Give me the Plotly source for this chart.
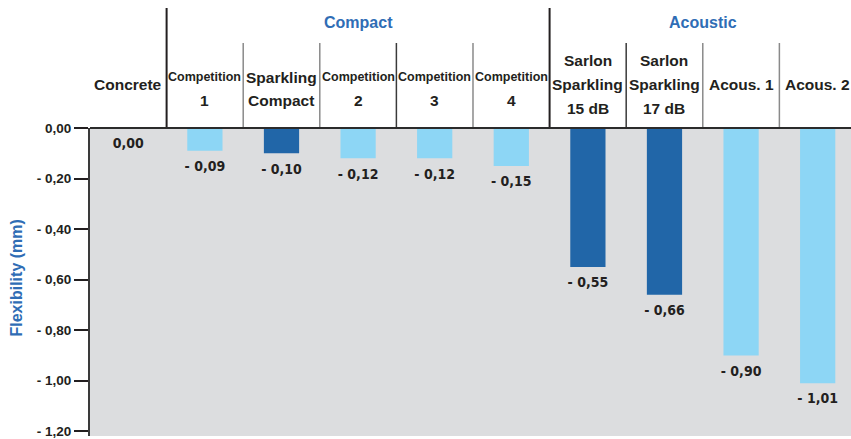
import plotly.graph_objects as go

# ---- data ----
categories = ["Concrete", "Competition 1", "Sparkling Compact", "Competition 2",
              "Competition 3", "Competition 4", "Sarlon Sparkling 15 dB",
              "Sarlon Sparkling 17 dB", "Acous. 1", "Acous. 2"]
values = [0.00, -0.09, -0.10, -0.12, -0.12, -0.15, -0.55, -0.66, -0.90, -1.01]
value_labels = ["0,00", "- 0,09", "- 0,10", "- 0,12", "- 0,12", "- 0,15",
                "- 0,55", "- 0,66", "- 0,90", "- 1,01"]
is_sarlon = [False, False, True, False, False, False, True, True, False, False]
header_lines = [["Concrete"], ["Competition", "1"], ["Sparkling", "Compact"],
                ["Competition", "2"], ["Competition", "3"], ["Competition", "4"],
                ["Sarlon", "Sparkling", "15 dB"], ["Sarlon", "Sparkling", "17 dB"],
                ["Acous. 1"], ["Acous. 2"]]
groups = [("Compact", 1, 5), ("Acoustic", 6, 9)]
y_tick_vals = [0, -0.2, -0.4, -0.6, -0.8, -1.0, -1.2]
y_tick_text = ["0,00", "- 0,20", "- 0,40", "- 0,60", "- 0,80", "- 1,00", "- 1,20"]
y_title = "Flexibility (mm)"

# ---- style ----
DARK = "#231F20"
BLUE_TXT = "#2F6DB5"
DARK_BAR = "#2166A8"
LIGHT_BAR = "#8DD6F5"
GRAY_BG = "#DCDDDF"
BOLD = "Liberation Sans, Arial, sans-serif"
NARROW = "Noto Sans Condensed, DejaVu Sans Condensed, Liberation Sans, sans-serif"

W, H = 851, 439
ML, MT, MB = 90, 128, 3
PLOT_H = H - MT - MB


def py(p):
    """pixel y (from top) -> paper y"""
    return (H - MB - p) / PLOT_H


x = list(range(len(categories)))
colors = [DARK_BAR if s else LIGHT_BAR for s in is_sarlon]

fig = go.Figure()
fig.add_trace(go.Bar(x=x, y=values, marker=dict(color=colors, line=dict(width=0)),
                     width=0.46, hoverinfo="skip", showlegend=False))
fig.add_trace(go.Scatter(x=x, y=values, mode="markers+text", text=value_labels,
                         textposition="bottom center",
                         marker=dict(size=14, opacity=0),
                         textfont=dict(family=NARROW, size=14, color=DARK, weight="bold"),
                         hoverinfo="skip", showlegend=False, cliponaxis=False))

annotations = []
shapes = []
# column header texts
line_y = {1: [84], 2: [77, 100], 3: [60, 84, 108]}
for i, lines in enumerate(header_lines):
    for ln, yy in zip(lines, line_y[len(lines)]):
        narrow = ln.startswith("Competition")
        annotations.append(dict(
            x=i, xref="x", y=py(yy), yref="paper", text="<b>%s</b>" % ln,
            showarrow=False, xanchor="center", yanchor="middle",
            font=dict(family=BOLD, size=12.5 if narrow else 15.5, color=DARK)))
# group titles
for name, a, b in groups:
    annotations.append(dict(
        x=(a + b) / 2, xref="x", y=py(22), yref="paper", text="<b>%s</b>" % name,
        showarrow=False, xanchor="center", yanchor="middle",
        font=dict(family=BOLD, size=16, color=BLUE_TXT)))
# y title
annotations.append(dict(
    x=0, xref="paper", xshift=-74.5, y=py(278), yref="paper", text="<b>%s</b>" % y_title,
    showarrow=False, textangle=-90, xanchor="center", yanchor="middle",
    font=dict(family=BOLD, size=16, color=BLUE_TXT)))

# header separators
group_starts = {g[1] for g in groups}
dark_seps = {4, 7}
for i in range(len(categories) - 1):
    b = i + 1
    if b in group_starts:
        shapes.append(dict(type="line", xref="x", yref="paper", x0=b - 0.5, x1=b - 0.5,
                           y0=1, y1=py(8), line=dict(color=DARK, width=2)))
    else:
        c = "#3a3a3a" if b in dark_seps else "#8a8a8a"
        shapes.append(dict(type="line", xref="x", yref="paper", x0=b - 0.5, x1=b - 0.5,
                           y0=1, y1=py(43), line=dict(color=c, width=1.5)))
# top border of plot
shapes.append(dict(type="line", xref="paper", yref="paper", x0=0, x1=1, y0=1, y1=1,
                   line=dict(color="#2b2b2b", width=2)))

fig.update_layout(
    width=W, height=H,
    margin=dict(l=ML, r=0, t=MT, b=MB, pad=0),
    paper_bgcolor="white", plot_bgcolor=GRAY_BG,
    bargap=0.54,
    annotations=annotations, shapes=shapes,
    xaxis=dict(range=[-0.5, 9.435], showticklabels=False, showgrid=False,
               zeroline=False, showline=False, ticks="", fixedrange=True),
    yaxis=dict(range=[-1.2188, 0], tickvals=y_tick_vals, ticktext=y_tick_text,
               ticks="outside", ticklen=14, tickwidth=2, tickcolor=DARK,
               showline=True, linecolor="#3a3a3a", linewidth=2,
               showgrid=False, zeroline=False, fixedrange=True,
               tickfont=dict(family=BOLD, size=13.5, color=DARK, weight="bold")),
    font=dict(family=BOLD, color=DARK),
)

fig.write_html("out.html", config={"displayModeBar": False},
               post_script="document.body.style.margin='0px';")
